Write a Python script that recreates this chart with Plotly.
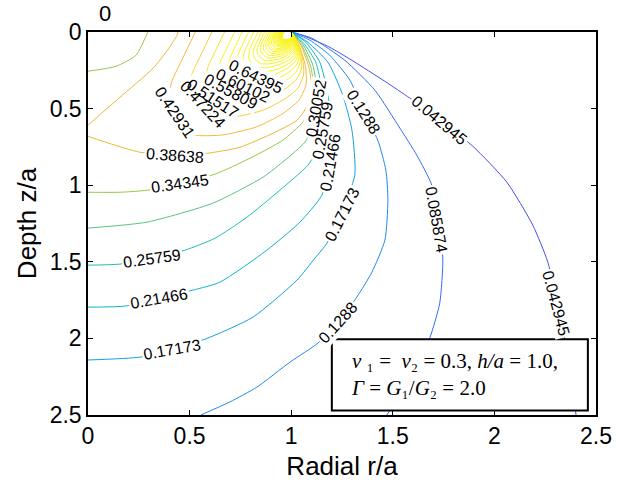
import plotly.graph_objects as go

# ---------------------------------------------------------------
# Contour paths of the normalised stress field, in r/a (radial) and z/a (depth).
# Levels k = 1..9 run from the punch edge (r/a = 1, z/a = 0) out to the
# boundaries; higher levels close around the punch edge.
# ---------------------------------------------------------------
levels = [0.042945, 0.085874, 0.1288, 0.17173, 0.21466, 0.25759, 0.30052,
          0.34345, 0.38638, 0.42931, 0.47224, 0.51517, 0.55809, 0.60102, 0.64395]

c01_r = [1.0, 1.067, 1.190, 1.299, 1.461, 1.584, 1.731, 1.894, 2.061, 2.189, 2.263, 2.307, 2.351, 2.402]
c01_z = [0.0, 0.028, 0.100, 0.185, 0.322, 0.432, 0.576, 0.746, 0.980, 1.261, 1.502, 1.763, 2.044, 2.500]

c02_r = [1.0, 1.102, 1.264, 1.412, 1.535, 1.618, 1.692, 1.717, 1.746, 1.731, 1.682, 1.623, 1.554, 1.470]
c02_z = [0.0, 0.041, 0.185, 0.380, 0.628, 0.804, 1.000, 1.228, 1.476, 1.770, 1.998, 2.174, 2.337, 2.500]

c03_r = [1.0, 1.092, 1.190, 1.289, 1.358, 1.426, 1.466, 1.476, 1.461, 1.397, 1.323, 1.230, 1.131, 0.994, 0.831, 0.698, 0.555]
c03_z = [0.0, 0.054, 0.152, 0.315, 0.524, 0.706, 0.902, 1.098, 1.359, 1.568, 1.730, 1.894, 2.031, 2.155, 2.318, 2.415, 2.500]

c04_r = [1.0, 1.082, 1.181, 1.254, 1.299, 1.313, 1.244, 1.176, 1.117, 1.028, 0.812, 0.576, 0.413, 0.256, 0.0]
c04_z = [0.0, 0.067, 0.198, 0.413, 0.641, 0.935, 1.183, 1.378, 1.476, 1.620, 1.861, 2.005, 2.070, 2.122, 2.141]

c05_r = [1.0, 1.072, 1.141, 1.181, 1.195, 1.190, 1.151, 1.043, 0.880, 0.649, 0.516, 0.349, 0.182, 0.0]
c05_z = [0.0, 0.067, 0.198, 0.413, 0.641, 0.850, 1.065, 1.241, 1.424, 1.633, 1.685, 1.737, 1.789, 1.796]

c06_r = [1.0, 1.062, 1.121, 1.151, 1.151, 1.121, 1.082, 0.944, 0.782, 0.625, 0.477, 0.315, 0.157, 0.0]
c06_z = [0.0, 0.074, 0.198, 0.380, 0.641, 0.785, 0.870, 1.033, 1.209, 1.346, 1.424, 1.476, 1.515, 1.522]

c07_r = [1.0, 1.057, 1.107, 1.126, 1.121, 1.102, 1.067, 0.969, 0.861, 0.615, 0.290, 0.0]
c07_z = [0.0, 0.080, 0.217, 0.380, 0.498, 0.628, 0.720, 0.837, 0.948, 1.117, 1.241, 1.280]

c08a_r = [0.0, 0.138, 0.236, 0.285, 0.295]
c08a_z = [0.256, 0.224, 0.152, 0.028, 0.0]
c08b_r = [1.0, 1.052, 1.097, 1.112, 1.092, 1.057, 0.959, 0.797, 0.625, 0.453, 0.290, 0.157, 0.0]
c08b_z = [0.0, 0.087, 0.230, 0.394, 0.511, 0.589, 0.706, 0.824, 0.928, 0.987, 1.033, 1.046, 1.046]

c09a_r = [0.0, 0.152, 0.320, 0.398, 0.438, 0.443]
c09a_z = [0.608, 0.432, 0.237, 0.106, 0.022, 0.0]
c09b_r = [1.0, 1.047, 1.087, 1.102, 1.072, 1.028, 0.910, 0.748, 0.590, 0.428, 0.256, 0.133, 0.0]
c09b_z = [0.0, 0.087, 0.230, 0.380, 0.498, 0.576, 0.661, 0.752, 0.791, 0.804, 0.785, 0.739, 0.681]

c10_r = [0.528, 0.469, 0.410, 0.395, 0.444, 0.523, 0.661, 0.828, 0.956, 1.039, 1.074, 1.069, 1.039, 1.0]
c10_z = [0.0, 0.163, 0.333, 0.489, 0.607, 0.672, 0.672, 0.620, 0.535, 0.444, 0.339, 0.215, 0.091, 0.0]
c11_r = [0.610, 0.561, 0.512, 0.500, 0.541, 0.606, 0.720, 0.858, 0.963, 1.033, 1.061, 1.057, 1.033, 1.0]
c11_z = [0.0, 0.135, 0.275, 0.404, 0.501, 0.555, 0.555, 0.512, 0.442, 0.367, 0.280, 0.178, 0.076, 0.0]
c12_r = [0.672, 0.631, 0.590, 0.580, 0.614, 0.669, 0.764, 0.880, 0.969, 1.027, 1.051, 1.048, 1.027, 1.0]
c12_z = [0.0, 0.113, 0.231, 0.340, 0.421, 0.467, 0.467, 0.430, 0.371, 0.308, 0.236, 0.150, 0.063, 0.0]
c13_r = [0.721, 0.686, 0.651, 0.642, 0.671, 0.718, 0.799, 0.898, 0.974, 1.023, 1.044, 1.041, 1.023, 1.0]
c13_z = [0.0, 0.097, 0.197, 0.290, 0.359, 0.398, 0.398, 0.367, 0.317, 0.263, 0.201, 0.127, 0.054, 0.0]
c14_r = [0.759, 0.729, 0.699, 0.691, 0.716, 0.757, 0.827, 0.912, 0.977, 1.020, 1.038, 1.035, 1.020, 1.0]
c14_z = [0.0, 0.083, 0.170, 0.250, 0.310, 0.343, 0.343, 0.316, 0.273, 0.226, 0.173, 0.110, 0.047, 0.0]
c15_r = [0.790, 0.764, 0.738, 0.731, 0.753, 0.788, 0.849, 0.923, 0.980, 1.018, 1.033, 1.031, 1.018, 1.0]
c15_z = [0.0, 0.073, 0.148, 0.217, 0.270, 0.299, 0.299, 0.275, 0.238, 0.197, 0.151, 0.096, 0.041, 0.0]
c16_r = [0.816, 0.793, 0.769, 0.764, 0.783, 0.814, 0.867, 0.933, 0.983, 1.015, 1.029, 1.027, 1.015, 1.0]
c16_z = [0.0, 0.064, 0.130, 0.191, 0.237, 0.262, 0.262, 0.242, 0.209, 0.173, 0.133, 0.084, 0.036, 0.0]
c17_r = [0.837, 0.816, 0.796, 0.791, 0.808, 0.835, 0.883, 0.940, 0.985, 1.014, 1.026, 1.024, 1.014, 1.0]
c17_z = [0.0, 0.056, 0.115, 0.169, 0.210, 0.233, 0.233, 0.214, 0.185, 0.154, 0.117, 0.075, 0.032, 0.0]
c18_r = [0.854, 0.836, 0.818, 0.813, 0.829, 0.853, 0.895, 0.947, 0.986, 1.012, 1.023, 1.021, 1.012, 1.0]
c18_z = [0.0, 0.050, 0.103, 0.151, 0.187, 0.207, 0.207, 0.191, 0.165, 0.137, 0.105, 0.066, 0.028, 0.0]
c19_r = [0.869, 0.837, 0.832, 0.868, 0.952, 1.011, 1.020, 1.011, 1.0]
c19_z = [0.0, 0.092, 0.136, 0.186, 0.172, 0.123, 0.094, 0.025, 0.0]
c20_r = [0.882, 0.852, 0.849, 0.881, 0.957, 1.010, 1.018, 1.010, 1.0]
c20_z = [0.0, 0.083, 0.122, 0.168, 0.155, 0.111, 0.085, 0.023, 0.0]
c21_r = [0.893, 0.866, 0.863, 0.892, 0.961, 1.009, 1.017, 1.009, 1.0]
c21_z = [0.0, 0.076, 0.111, 0.152, 0.141, 0.101, 0.077, 0.021, 0.0]
c22_r = [0.902, 0.878, 0.875, 0.901, 0.964, 1.008, 1.015, 1.008, 1.0]
c22_z = [0.0, 0.069, 0.101, 0.139, 0.128, 0.092, 0.070, 0.019, 0.0]
c23_r = [0.911, 0.888, 0.886, 0.910, 0.967, 1.007, 1.014, 1.007, 1.0]
c23_z = [0.0, 0.063, 0.093, 0.127, 0.117, 0.084, 0.064, 0.017, 0.0]
c24_r = [0.918, 0.898, 0.895, 0.917, 0.970, 1.007, 1.013, 1.007, 1.0]
c24_z = [0.0, 0.058, 0.085, 0.117, 0.108, 0.077, 0.059, 0.016, 0.0]
c25_r = [0.924, 0.906, 0.903, 0.924, 0.972, 1.006, 1.012, 1.006, 1.0]
c25_z = [0.0, 0.053, 0.078, 0.108, 0.099, 0.071, 0.054, 0.015, 0.0]
c26_r = [0.930, 0.913, 0.918, 0.950, 0.993, 1.011, 1.0]
c26_z = [0.0, 0.049, 0.090, 0.099, 0.079, 0.050, 0.0]
c27_r = [0.935, 0.919, 0.924, 0.953, 0.994, 1.010, 1.0]
c27_z = [0.0, 0.046, 0.083, 0.092, 0.073, 0.047, 0.0]
c28_r = [0.940, 0.925, 0.929, 0.957, 0.994, 1.009, 1.0]
c28_z = [0.0, 0.043, 0.077, 0.086, 0.068, 0.043, 0.0]
c29_r = [0.944, 0.930, 0.934, 0.960, 0.995, 1.009, 1.0]
c29_z = [0.0, 0.040, 0.072, 0.080, 0.064, 0.040, 0.0]
c30_r = [0.948, 0.934, 0.938, 0.962, 0.995, 1.008, 1.0]
c30_z = [0.0, 0.037, 0.067, 0.075, 0.059, 0.038, 0.0]
c31_r = [0.951, 0.939, 0.942, 0.965, 0.995, 1.008, 1.0]
c31_z = [0.0, 0.035, 0.063, 0.070, 0.056, 0.035, 0.0]
c32_r = [0.954, 0.942, 0.946, 0.967, 0.996, 1.007, 1.0]
c32_z = [0.0, 0.033, 0.059, 0.066, 0.052, 0.033, 0.0]
c33_r = [0.957, 0.946, 0.949, 0.969, 0.996, 1.007, 1.0]
c33_z = [0.0, 0.031, 0.056, 0.062, 0.049, 0.031, 0.0]
c34_r = [0.959, 0.949, 0.952, 0.971, 0.996, 1.006, 1.0]
c34_z = [0.0, 0.029, 0.053, 0.058, 0.046, 0.029, 0.0]
c35_r = [0.961, 0.952, 0.955, 0.972, 0.996, 1.006, 1.0]
c35_z = [0.0, 0.027, 0.050, 0.055, 0.044, 0.028, 0.0]
c36_r = [0.964, 0.954, 0.957, 0.974, 0.997, 1.006, 1.0]
c36_z = [0.0, 0.026, 0.047, 0.052, 0.041, 0.026, 0.0]
c37_r = [0.966, 0.957, 0.959, 0.975, 0.997, 1.005, 1.0]
c37_z = [0.0, 0.024, 0.044, 0.049, 0.039, 0.025, 0.0]

# contour labels: text, centre (r/a, z/a), rotation (deg, clockwise)
label_text = ["0.042945", "0.042945", "0.085874", "0.1288", "0.1288", "0.17173", "0.17173",
              "0.21466", "0.21466", "0.25759", "0.25759", "0.30052", "0.34345", "0.38638",
              "0.42931", "0.47224", "0.51517", "0.55809", "0.60102", "0.64395"]
label_r = [1.731, 2.305, 1.717, 1.358, 1.230, 1.250, 0.413, 1.192, 0.349, 1.153, 0.315,
           1.121, 0.453, 0.428, 0.428, 0.566, 0.615, 0.703, 0.762, 0.826]
label_z = [0.576, 1.770, 1.228, 0.524, 1.894, 1.190, 2.070, 0.850, 1.737, 0.641, 1.476,
           0.498, 0.987, 0.804, 0.524, 0.472, 0.432, 0.387, 0.348, 0.289]
label_angle = [40, 75, 80, 58, -48, -63, -10, -80, -10, -80, -8, -80, -8, 4, 56, 47, 33, 28, 26, 26]

# ---------------------------------------------------------------
# Line colours (parula-like map, saturated at the top end)
# ---------------------------------------------------------------
level_colors = {
    1: "rgb(70,80,235)", 2: "rgb(50,110,245)", 3: "rgb(28,140,235)", 4: "rgb(20,160,222)",
    5: "rgb(15,180,205)", 6: "rgb(30,190,180)", 7: "rgb(90,195,130)", 8: "rgb(150,200,70)",
    9: "rgb(232,186,55)", 10: "rgb(250,184,60)", 11: "rgb(250,204,50)", 12: "rgb(246,224,40)",
}
def color_for(k):
    return level_colors.get(k, "rgb(249,245,25)")

paths = [
    (1, c01_r, c01_z), (2, c02_r, c02_z), (3, c03_r, c03_z), (4, c04_r, c04_z),
    (5, c05_r, c05_z), (6, c06_r, c06_z), (7, c07_r, c07_z),
    (8, c08a_r, c08a_z), (8, c08b_r, c08b_z), (9, c09a_r, c09a_z), (9, c09b_r, c09b_z),
    (10, c10_r, c10_z), (11, c11_r, c11_z), (12, c12_r, c12_z), (13, c13_r, c13_z),
    (14, c14_r, c14_z), (15, c15_r, c15_z), (16, c16_r, c16_z), (17, c17_r, c17_z),
    (18, c18_r, c18_z), (19, c19_r, c19_z), (20, c20_r, c20_z), (21, c21_r, c21_z),
    (22, c22_r, c22_z), (23, c23_r, c23_z), (24, c24_r, c24_z), (25, c25_r, c25_z),
    (26, c26_r, c26_z), (27, c27_r, c27_z), (28, c28_r, c28_z), (29, c29_r, c29_z),
    (30, c30_r, c30_z), (31, c31_r, c31_z), (32, c32_r, c32_z), (33, c33_r, c33_z),
    (34, c34_r, c34_z), (35, c35_r, c35_z), (36, c36_r, c36_z), (37, c37_r, c37_z),
]

fig = go.Figure()
for k, r, z in paths:
    fig.add_trace(go.Scatter(
        x=r, y=z, mode="lines", line=dict(color=color_for(k), width=1, shape="spline", smoothing=0.6),
        hoverinfo="skip", showlegend=False))

LABEL_FONT = "Liberation Sans, Arial, sans-serif"
annotations = []
# white patches (white text on white) that break the lines under each label
for t, x, y, a in zip(label_text, label_r, label_z, label_angle):
    annotations.append(dict(x=x, y=y, xref="x", yref="y", text=t, textangle=a, showarrow=False,
                            font=dict(family=LABEL_FONT, size=16, color="white"),
                            bgcolor="white", borderpad=1))
# label text on top
for t, x, y, a in zip(label_text, label_r, label_z, label_angle):
    annotations.append(dict(x=x, y=y, xref="x", yref="y", text=t, textangle=a, showarrow=False,
                            font=dict(family=LABEL_FONT, size=16, color="black")))

# parameter box: white panel with a black frame, text placed inside it
box_shape = dict(type="rect", xref="x", yref="y", x0=1.20, x1=2.46, y0=2.005, y1=2.47,
                 fillcolor="white", line=dict(color="black", width=2), layer="above")
annotations.append(dict(
    x=1.285, y=2.235, xref="x", yref="y", xanchor="left", yanchor="middle", showarrow=False,
    align="left",
    text=("<i>ν</i> ₁ =  <i>ν</i>₂ = 0.3, <i>h/a</i> = 1.0,<br>"
          "<i>Γ</i> = <i>G</i>₁/<i>G</i>₂ = 2.0"),
    font=dict(family="Liberation Serif, DejaVu Serif, serif", size=21, color="black")))

# title text above the axes
annotations.append(dict(x=0.084, y=1.047, xref="x", yref="paper", yanchor="middle",
                        text="0", showarrow=False,
                        font=dict(family=LABEL_FONT, size=22, color="black")))

tick_vals = [0, 0.5, 1, 1.5, 2, 2.5]
tick_text = ["0", "0.5", "1", "1.5", "2", "2.5"]
axis_common = dict(
    tickvals=tick_vals, ticktext=tick_text, ticks="inside", ticklen=5, tickwidth=1,
    tickcolor="black", showline=True, linecolor="black", linewidth=1.5, mirror="ticks",
    showgrid=False, zeroline=False,
    tickfont=dict(family=LABEL_FONT, size=23, color="black"),
)

fig.update_layout(
    width=624, height=491,
    margin=dict(l=88, r=28, t=32, b=76),
    paper_bgcolor="white", plot_bgcolor="white",
    xaxis=dict(range=[0, 2.5], title=dict(text="Radial r/a", standoff=8,
               font=dict(family=LABEL_FONT, size=26, color="black")), **axis_common),
    yaxis=dict(range=[2.5, 0], title=dict(text="Depth z/a", standoff=6,
               font=dict(family=LABEL_FONT, size=26, color="black")), **axis_common),
    annotations=annotations,
    shapes=[box_shape],
)

fig.write_html("out.html")
